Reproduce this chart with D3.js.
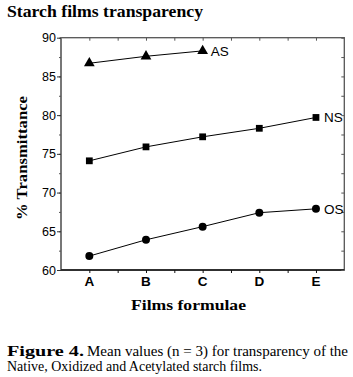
<!DOCTYPE html>
<html>
<head>
<meta charset="utf-8">
<script src="https://cdn.jsdelivr.net/npm/d3@7"></script>
<style>
  body { margin: 0; background: #fff; }
  svg { display: block; }
  .tk text { font-family: 'Liberation Sans', Arial, sans-serif; fill: #000; }
</style>
</head>
<body>
<div id="chart"></div>
<script>
const formulae = ['A', 'B', 'C', 'D', 'E']
const asValues = [86.7, 87.6, 88.3]
const nsValues = [74.1, 75.9, 77.2, 78.3, 79.7]
const osValues = [61.8, 63.9, 65.6, 67.4, 67.9]
const yTicks = [60, 65, 70, 75, 80, 85, 90]

const series = [
  { name: 'AS', values: asValues, symbol: d3.symbolTriangle, size: 50 },
  { name: 'NS', values: nsValues, symbol: d3.symbolSquare, size: 46 },
  { name: 'OS', values: osValues, symbol: d3.symbolCircle, size: 50 }
]

const width = 353
const height = 377
const plotL = 61
const plotR = 344.3
const plotT = 37.7
const plotB = 270
const serif = "'Liberation Serif', serif"

const svg = d3.select('#chart').append('svg')
  .attr('width', width)
  .attr('height', height)

const x = d3.scaleBand().domain(formulae).range([plotL, plotR]).padding(0)
const xc = d => x(d) + x.bandwidth() / 2
const xLin = d3.scaleLinear().domain([0, formulae.length]).range([plotL, plotR])
const y = d3.scaleLinear().domain([60, 90]).range([plotB, plotT])

const halfSteps = d3.range(0.5, formulae.length, 0.5)
const minorY = d3.range(60, 90.1, 2.5)

// 标题
svg.append('text')
  .attr('x', 7).attr('y', 17)
  .attr('textLength', 196)
  .attr('lengthAdjust', 'spacingAndGlyphs')
  .style('font-family', serif)
  .style('font-weight', 'bold')
  .style('font-size', '17px')
  .text('Starch films transparency')

// 坐标框
const axisColor = '#555'
svg.append('rect')
  .attr('x', plotL).attr('y', plotT)
  .attr('width', plotR - plotL).attr('height', plotB - plotT)
  .attr('fill', 'none')
  .attr('stroke', axisColor)
  .attr('stroke-width', 1.3)
svg.append('line')
  .attr('x1', plotL).attr('x2', plotL).attr('y1', plotT).attr('y2', plotB)
  .attr('stroke', '#777').attr('stroke-width', 2)
svg.append('line')
  .attr('x1', plotL).attr('x2', plotR).attr('y1', plotB).attr('y2', plotB)
  .attr('stroke', '#111').attr('stroke-width', 1.3)

// 顶部刻度(向内)
svg.append('g').attr('class', 'tk')
  .attr('transform', `translate(0,${plotT})`)
  .call(d3.axisTop(xLin).tickValues(halfSteps).tickSize(-3).tickFormat(''))
  .call(g => g.select('.domain').remove())
  .selectAll('line').attr('stroke', axisColor)

// 底部刻度
svg.append('g').attr('class', 'tk')
  .attr('transform', `translate(0,${plotB})`)
  .call(d3.axisBottom(xLin).tickValues(halfSteps).tickSize(3).tickFormat(''))
  .call(g => g.select('.domain').remove())
  .selectAll('line').attr('stroke', '#111')

svg.append('g').attr('class', 'tk')
  .attr('transform', `translate(0,${plotB})`)
  .call(d3.axisBottom(x).tickSize(0).tickPadding(6))
  .call(g => g.select('.domain').remove())
  .selectAll('text')
  .style('font-size', '13.5px')
  .style('font-weight', 'bold')

// 右侧刻度(向内)
svg.append('g').attr('class', 'tk')
  .attr('transform', `translate(${plotR},0)`)
  .call(d3.axisRight(y).tickValues(minorY).tickSize(-3).tickFormat(''))
  .call(g => g.select('.domain').remove())
  .selectAll('line').attr('stroke', axisColor)

// 左侧刻度
svg.append('g').attr('class', 'tk')
  .attr('transform', `translate(${plotL},0)`)
  .call(d3.axisLeft(y).tickValues(minorY).tickSize(2).tickFormat(''))
  .call(g => g.select('.domain').remove())
  .selectAll('line').attr('stroke', '#555')

svg.append('g').attr('class', 'tk')
  .attr('transform', `translate(${plotL},0)`)
  .call(d3.axisLeft(y).tickValues(yTicks).tickSize(4).tickPadding(1))
  .call(g => g.select('.domain').remove())
  .call(g => g.selectAll('line').attr('stroke', '#333'))
  .selectAll('text')
  .style('font-size', '12.5px')

// 轴标题
svg.append('text')
  .attr('transform', `translate(27,158) rotate(-90)`)
  .attr('text-anchor', 'middle')
  .attr('textLength', 124)
  .attr('lengthAdjust', 'spacingAndGlyphs')
  .style('font-family', serif)
  .style('font-weight', 'bold')
  .style('font-size', '14.5px')
  .text('%  Transmittance')

svg.append('text')
  .attr('x', 188.5).attr('y', 310)
  .attr('text-anchor', 'middle')
  .attr('textLength', 115)
  .attr('lengthAdjust', 'spacingAndGlyphs')
  .style('font-family', serif)
  .style('font-weight', 'bold')
  .style('font-size', '14.5px')
  .text('Films  formulae')

// 折线与标记
const line = d3.line()
  .x((d, i) => xc(formulae[i]))
  .y(d => y(d))

series.forEach(s => {
  const g = svg.append('g')
  g.append('path')
    .datum(s.values)
    .attr('d', line)
    .attr('fill', 'none')
    .attr('stroke', '#000')
    .attr('stroke-width', 1)
  g.selectAll('path.mk').data(s.values).enter()
    .append('path')
    .classed('mk', true)
    .attr('d', d3.symbol().type(s.symbol).size(s.size))
    .attr('transform', (d, i) => `translate(${xc(formulae[i])},${y(d)})`)
    .attr('fill', '#000')
  const last = s.values.length - 1
  g.append('text')
    .attr('x', xc(formulae[last]) + 8)
    .attr('y', y(s.values[last]))
    .attr('dy', '0.35em')
    .style('font-family', "'Liberation Sans', Arial, sans-serif")
    .style('font-size', '13.5px')
    .text(s.name)
})

// 图注
const cap = svg.append('text')
  .style('font-family', serif)
  .style('font-size', '14.5px')
cap.append('tspan').attr('x', 7).attr('y', 356)
  .attr('textLength', 77)
  .attr('lengthAdjust', 'spacingAndGlyphs')
  .style('font-weight', 'bold').text('Figure 4.')
cap.append('tspan').attr('x', 87).attr('y', 356)
  .attr('textLength', 261)
  .attr('lengthAdjust', 'spacingAndGlyphs')
  .text('Mean values (n = 3) for transparency of the')
cap.append('tspan').attr('x', 7).attr('y', 370.5)
  .attr('textLength', 255)
  .attr('lengthAdjust', 'spacingAndGlyphs')
  .text('Native, Oxidized and Acetylated starch films.')
</script>
</body>
</html>
